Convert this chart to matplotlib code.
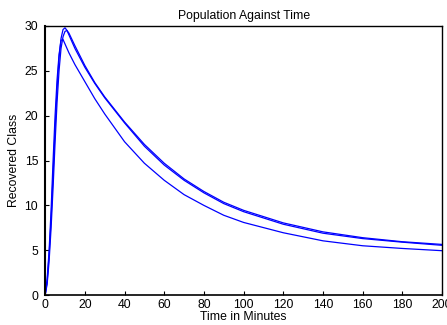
import matplotlib
matplotlib.use("Agg")
import matplotlib.pyplot as plt

# time points (minutes) and the three recovered-class curves
t = [0, 1, 2, 3, 4, 5, 6, 7, 8, 9, 10, 11, 12, 15, 20, 25, 30, 40, 50, 60,
     70, 80, 90, 100, 120, 140, 160, 180, 200]
run_a = [0, 1.5, 4.5, 8.5, 13.5, 18.5, 23.0, 26.5, 28.6, 29.6, 29.8, 29.5, 29.0,
         27.5, 25.4, 23.6, 22.0, 19.2, 16.6, 14.5, 12.8, 11.4, 10.2, 9.3, 7.9,
         6.9, 6.3, 5.9, 5.55]
run_b = [0, 1.2, 3.8, 7.5, 12.0, 17.0, 21.5, 25.0, 27.5, 28.8, 29.4, 29.5, 29.2,
         27.8, 25.6, 23.7, 22.1, 19.3, 16.8, 14.7, 12.95, 11.55, 10.35, 9.45,
         8.05, 7.05, 6.4, 5.95, 5.65]
run_c = [0, 1.8, 5.0, 9.5, 15.0, 20.0, 24.0, 26.8, 28.4, 28.5, 28.0, 27.5, 27.0,
         25.7, 23.8, 21.9, 20.2, 17.1, 14.7, 12.8, 11.2, 10.0, 8.9, 8.1, 6.95,
         6.05, 5.5, 5.2, 4.95]

x_ticks = list(range(0, 201, 20))
y_ticks = list(range(0, 31, 5))

plt.rcParams["font.family"] = ["Liberation Sans", "DejaVu Sans"]
fs = 8.8

fig = plt.figure(figsize=(4.47, 3.25), dpi=100)
ax = fig.add_axes([0.101, 0.092, 0.888, 0.828])

for y in (run_a, run_b, run_c):
    ax.plot(t, y, color="#0000ff", linewidth=0.9)

ax.set_xlim(0, 200)
ax.set_ylim(0, 30)
ax.set_xticks(x_ticks)
ax.set_yticks(y_ticks)
ax.tick_params(direction="in", length=3, width=0.8, labelsize=fs)
ax.tick_params(axis="y", pad=5)
ax.tick_params(axis="x", pad=3)
for s in ax.spines.values():
    s.set_linewidth(1.0)
ax.spines["left"].set_linewidth(1.5)
ax.spines["bottom"].set_linewidth(1.2)

ax.set_title("Population Against Time", fontsize=fs, pad=5)
ax.set_xlabel("Time in Minutes", fontsize=fs, labelpad=0)
ax.set_ylabel("Recovered Class", fontsize=fs, labelpad=3)

fig.savefig("out.png", dpi=100)
